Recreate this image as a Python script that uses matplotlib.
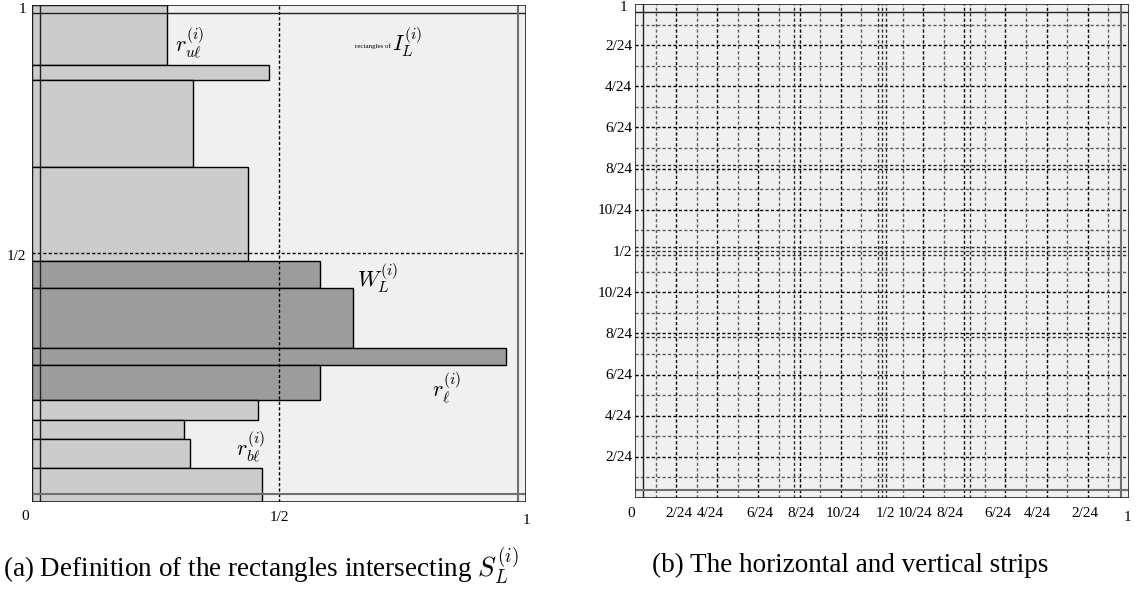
import matplotlib
matplotlib.use("Agg")
import matplotlib.pyplot as plt
from matplotlib.patches import Rectangle

plt.rcParams['font.family'] = ['Liberation Serif', 'DejaVu Serif']
plt.rcParams['mathtext.fontset'] = 'cm'

# left panel: stacked rectangles (bottom, top, right end)
rect_bottom = [0.879, 0.850, 0.674, 0.485, 0.430, 0.309, 0.275, 0.205, 0.165, 0.127, 0.068, 0.000]
rect_top = [1.000, 0.879, 0.850, 0.674, 0.485, 0.430, 0.309, 0.275, 0.205, 0.165, 0.127, 0.068]
rect_width = [0.273, 0.480, 0.326, 0.437, 0.583, 0.650, 0.959, 0.583, 0.458, 0.308, 0.320, 0.465]
rect_kind = ['light', 'light', 'light', 'light', 'dark', 'dark', 'dark', 'dark',
             'light', 'light', 'light', 'light']

left_xticks = [0, 0.5, 1]
left_xlabels = ['0', '1/2', '1']
left_yticks = [0.5, 1]
left_ylabels = ['1/2', '1']

# right panel: strips at k/24 plus a few extra lines
strip_k = [1, 2, 3, 4, 5, 6, 7, 8, 9, 10, 11, 13, 14, 15, 16, 17, 18, 19, 20, 21, 22, 23]
extra_v = [0.321, 0.679, 0.492, 0.500, 0.508]
extra_h = [0.326, 0.674, 0.492, 0.500, 0.508]

right_xticks = [0, 0.089, 0.152, 0.253, 0.335, 0.421, 0.506, 0.567, 0.638, 0.735, 0.814, 0.911, 0.996]
right_xlabels = ['0', '2/24', '4/24', '6/24', '8/24', '10/24', '1/2',
                 '10/24', '8/24', '6/24', '4/24', '2/24', '1']
right_yticks = [0.992, 0.913, 0.830, 0.747, 0.664, 0.581, 0.497,
                0.413, 0.330, 0.247, 0.164, 0.081]
right_ylabels = ['1', '2/24', '4/24', '6/24', '8/24', '10/24', '1/2',
                 '10/24', '8/24', '6/24', '4/24', '2/24']

fill_colors = {'light': '#cccccc', 'dark': '#9c9c9c'}
bg = '#f0f0f0'
eps = 0.016
dash = (0, (2.3, 1.6))

fig = plt.figure(figsize=(11.39, 5.95), dpi=100)


def draw_frame(ax):
    ax.add_patch(Rectangle((0, 0), 1, 1, facecolor=bg, edgecolor='none', zorder=0))
    ax.plot([0, 1], [1 - eps, 1 - eps], color='#222222', lw=1.0, zorder=6)
    ax.plot([eps, eps], [0, 1], color='#222222', lw=1.0, zorder=6)
    ax.plot([0, 1], [eps, eps], color='#707070', lw=1.5, zorder=6)
    ax.plot([1 - eps, 1 - eps], [0, 1], color='#707070', lw=1.5, zorder=6)
    ax.add_patch(Rectangle((0, 0), 1, 1, facecolor='none', edgecolor='#222222', lw=1.2, zorder=7))
    ax.set_xlim(0, 1)
    ax.set_ylim(0, 1)
    ax.axis('off')


# ---- (a) ----
ax1 = fig.add_axes([0.0281, 0.1563, 0.4337, 0.8353])
draw_frame(ax1)
for b, t, w, k in zip(rect_bottom, rect_top, rect_width, rect_kind):
    ax1.add_patch(Rectangle((0, b), w, t - b, facecolor=fill_colors[k],
                            edgecolor='black', lw=1.0, zorder=3))
ax1.axvline(0.5, color='black', lw=1.0, ls=dash, zorder=5)
ax1.axhline(0.5, color='black', lw=1.0, ls=dash, zorder=5)

ax1.text(-0.014, -0.030, left_xlabels[0], ha='center', va='center', fontsize=11)
for xv, lab in zip(left_xticks[1:], left_xlabels[1:]):
    ax1.text(xv, -0.032 if lab != '1' else -0.038, lab, ha='center', va='center', fontsize=11)
for yv, lab in zip(left_yticks, left_ylabels):
    ax1.text(-0.012, yv - 0.006 if lab == '1/2' else 0.99, lab, ha='right', va='center', fontsize=11)

ax1.text(0.32, 0.925, r'$r_{u\ell}^{(i)}$', ha='center', va='center', fontsize=16, zorder=8)
ax1.text(0.727, 0.918, 'rectangles of', ha='right', va='center', fontsize=5, zorder=8)
ax1.text(0.729, 0.925, r'$I_L^{(i)}$', ha='left', va='center', fontsize=16, zorder=8)
ax1.text(0.70, 0.45, r'$W_L^{(i)}$', ha='center', va='center', fontsize=16, zorder=8)
ax1.text(0.84, 0.23, r'$r_{\ell}^{(i)}$', ha='center', va='center', fontsize=16, zorder=8)
ax1.text(0.443, 0.112, r'$r_{b\ell}^{(i)}$', ha='center', va='center', fontsize=16, zorder=8)

# ---- (b) ----
ax2 = fig.add_axes([0.5575, 0.1630, 0.4337, 0.8303])
draw_frame(ax2)
for k in strip_k:
    col = 'black' if k % 2 == 0 else '#5e5e5e'
    ax2.plot([k / 24, k / 24], [0, 1], color=col, lw=1.0, ls=dash, zorder=4)
    ax2.plot([0, 1], [k / 24, k / 24], color=col, lw=1.0, ls=dash, zorder=4)
for v in extra_v:
    ax2.plot([v, v], [0, 1], color='#333333', lw=1.0, ls=dash, zorder=4)
for h in extra_h:
    ax2.plot([0, 1], [h, h], color='#333333', lw=1.0, ls=dash, zorder=4)

for xv, lab in zip(right_xticks, right_xlabels):
    ax2.text(xv - (0.008 if lab == '0' else 0), -0.040 if lab == '1' else -0.032, lab,
             ha='center', va='center', fontsize=11)
for yv, lab in zip(right_yticks, right_ylabels):
    ax2.text(-0.006 if lab != '1' else -0.015, yv, lab, ha='right', va='center', fontsize=11)

fig.text(0.229, 0.049, r'(a) Definition of the rectangles intersecting $S_L^{(i)}$',
         ha='center', va='center', fontsize=19.5)
fig.text(0.746, 0.049, '(b) The horizontal and vertical strips',
         ha='center', va='center', fontsize=19.5)

fig.savefig('out.png', dpi=100)
